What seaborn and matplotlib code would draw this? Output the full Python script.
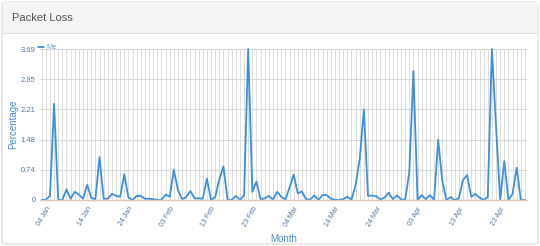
import matplotlib
matplotlib.use("Agg")
import matplotlib.pyplot as plt
import matplotlib.dates as mdates
from matplotlib.patches import FancyBboxPatch, Rectangle
from matplotlib.ticker import FixedLocator, FixedFormatter
import seaborn as sns
import pandas as pd

# ---- data ----
start_date = "2016-01-03"
packet_loss = [
    0, 0.01, 0.1, 2.35, 0, 0, 0.26, 0.03, 0.2, 0.13, 0.03, 0.37, 0.05, 0.02, 1.05,
    0.03, 0.03, 0.15, 0.1, 0.08, 0.63, 0.06, 0, 0.1, 0.1, 0.03, 0.03, 0.02, 0, 0,
    0.13, 0.08, 0.74, 0.24, 0.02, 0.07, 0.22, 0.04, 0.04, 0.03, 0.52, 0, 0.07, 0.5,
    0.82, 0.01,
    0, 0.1, 0, 0.12, 3.69, 0.2, 0.45, 0.01, 0.04, 0.1, 0.01, 0.2, 0.08, 0.01, 0.3,
    0.62, 0.16, 0.21, 0.02, 0.01, 0.11, 0.0, 0.12, 0.12,
    0.03, 0.01, 0, 0.02, 0.08, 0.01, 0.37, 1.0, 2.21, 0.1, 0.11, 0.09, 0.01, 0.06,
    0.18, 0.02, 0.11, 0.02, 0, 0.68, 3.15, 0, 0.12, 0.02,
    0.12, 0, 1.47, 0.45, 0, 0.07, 0, 0.04, 0.49, 0.61, 0.08, 0.15, 0.06, 0, 0.07,
    3.69, 1.8, 0, 0.95, 0, 0.15, 0.79, 0, 0,
]
y_ticks = [0, 0.738, 1.476, 2.214, 2.952, 3.69]
y_tick_labels = ["0", "0.74", "1.48", "2.21", "2.95", "3.69"]
x_tick_dates = ["2016-01-04", "2016-01-14", "2016-01-24", "2016-02-03", "2016-02-13",
                "2016-02-23", "2016-03-04", "2016-03-14", "2016-03-24", "2016-04-03",
                "2016-04-13", "2016-04-23"]
series_name = "Me"
title = "Packet Loss"

dates = pd.date_range(start_date, periods=len(packet_loss), freq="D")
df = pd.DataFrame({"Month": dates, "Percentage": packet_loss})

sns.set_theme(style="white")
plt.rcParams["font.family"] = ["Liberation Sans", "DejaVu Sans"]

fig = plt.figure(figsize=(5.4, 2.46), dpi=100)
fig.patch.set_facecolor("white")

# panel frame + header
fig.patches.append(FancyBboxPatch((2 / 540, 2 / 246), 536 / 540, 242 / 246,
                                  boxstyle="round,pad=0,rounding_size=0.008",
                                  transform=fig.transFigure, facecolor="white",
                                  edgecolor="#d9d9d9", linewidth=0.8, zorder=-2))
fig.patches.append(Rectangle((2.5 / 540, 213 / 246), 535 / 540, 30.5 / 246,
                             transform=fig.transFigure, facecolor="#f5f5f5",
                             edgecolor="none", zorder=-1))
fig.lines.append(plt.Line2D([2.5 / 540, 537.5 / 540], [213 / 246, 213 / 246],
                            transform=fig.transFigure, color="#dcdcdc", lw=0.8,
                            zorder=-1))
fig.text(12 / 540, 228 / 246, title, fontsize=8, color="#555555", va="center", ha="left")

ax = fig.add_axes([40 / 540, 46 / 246, 487 / 540, 151 / 246])
ax.set_zorder(2)
ax.set_facecolor("none")

blue = "#3d8fe0"
sns.lineplot(data=df, x="Month", y="Percentage", ax=ax, color=blue, linewidth=1.3,
             label=series_name, clip_on=False)

ax.set_xlim(dates[0] - pd.Timedelta(days=0.41), dates[0] + pd.Timedelta(days=117.5))
ax.set_ylim(0, 3.69)

# y ticks
ax.yaxis.set_major_locator(FixedLocator(y_ticks))
ax.yaxis.set_major_formatter(FixedFormatter(y_tick_labels))
# x ticks
xt = pd.to_datetime(x_tick_dates)
ax.set_xticks(xt)
ax.set_xticklabels([d.strftime("%d %b") for d in xt], rotation=60, ha="right",
                   va="top", rotation_mode="anchor")
ax.xaxis.set_minor_locator(mdates.DayLocator())

ax.grid(False)
ax.grid(axis="y", which="major", color="#d9d9d9", linewidth=0.8)
ax.grid(axis="x", which="minor", color="#dddddd", linewidth=0.7)
ax.grid(axis="x", which="major", color="#dddddd", linewidth=0.7)
ax.set_axisbelow(True)

for s in ["top", "right", "left"]:
    ax.spines[s].set_visible(False)
ax.spines["bottom"].set_color("#e2c9b4")
ax.spines["bottom"].set_linewidth(1.0)

tick_color = "#4f78a8"
ax.tick_params(axis="y", labelsize=5.5, colors=tick_color, length=0, pad=3)
ax.tick_params(axis="x", which="both", labelsize=5, colors=tick_color, length=0, pad=4)

ax.set_xlabel("Month", fontsize=7, color="#4a8ad0", labelpad=4)
ax.set_ylabel("Percentage", fontsize=7, color="#4a8ad0", labelpad=2)

leg = ax.legend(loc="lower left", bbox_to_anchor=(-0.005, 0.985), frameon=False,
                fontsize=5.5, handlelength=0.8, handletextpad=0.4,
                borderaxespad=0, borderpad=0)
for t in leg.get_texts():
    t.set_color("#6fa3dc")

fig.savefig("out.png", dpi=100)
